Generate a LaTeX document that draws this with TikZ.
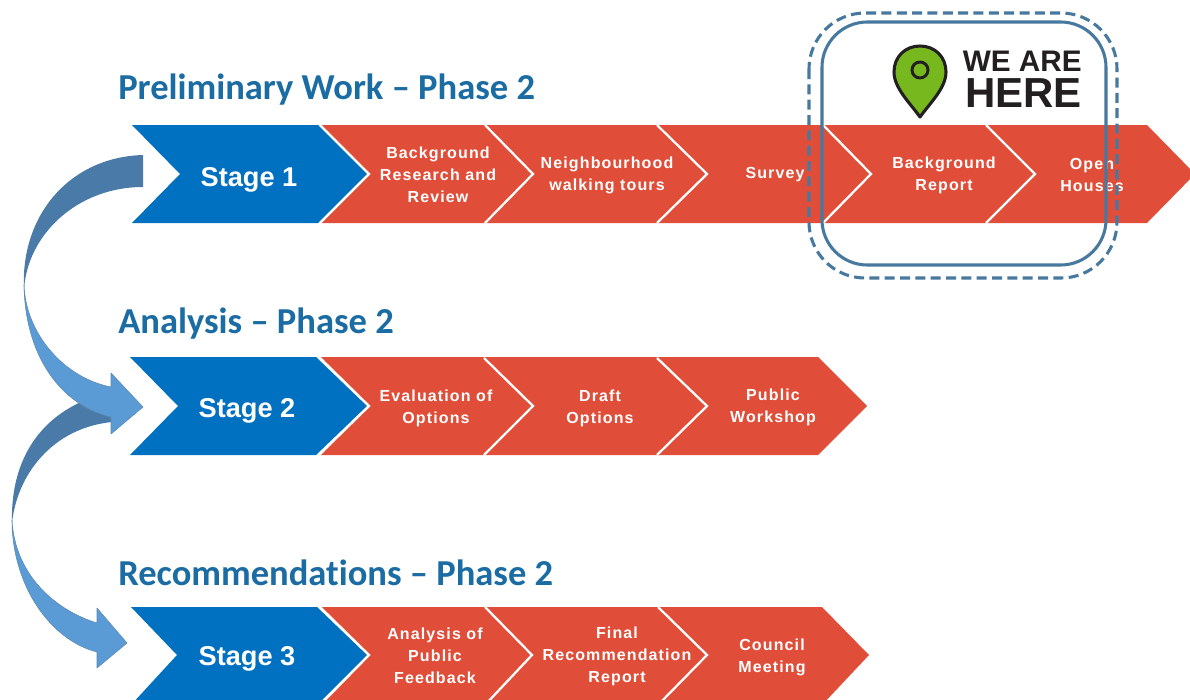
\documentclass[tikz,border=0pt]{standalone}
\usepackage{fontspec}
\setmainfont{Liberation Sans}
\newfontfamily\titlefamily[Ligatures=NoCommon]{Carlito}
\newfontfamily\stepfamily[LetterSpace=7]{Liberation Sans}
\definecolor{stageblue}{HTML}{0070C0}
\definecolor{stepred}{HTML}{E04E39}
\definecolor{titleblue}{HTML}{1B6CA3}
\definecolor{boxblue}{HTML}{47799F}
\definecolor{arrowdark}{HTML}{4A7BA8}
\definecolor{arrowlight}{HTML}{5B9BD5}
\definecolor{pingreen}{HTML}{76B81E}
\definecolor{inkblack}{HTML}{231F20}
\tikzset{
  phasetitle/.style={anchor=base west,inner sep=0pt,text=titleblue,font=\titlefamily\bfseries\fontsize{27.4}{32}\selectfont},
  stagetext/.style={inner sep=0pt,text=white,font=\bfseries\fontsize{20.4}{24}\selectfont},
  steptext/.style={inner sep=0pt,text=white,align=center,font=\stepfamily\bfseries\fontsize{12}{16.5}\selectfont},
  separator/.style={draw=white,line width=1.7pt,line join=miter},
  arrowedge/.style={draw=arrowdark!90,line width=0.4pt,line join=round},
}
% #1 colour, #2 left top x, #3 notch x, #4 right top x, #5 tip x, #6 top y, #7 mid y, #8 bottom y
\newcommand{\chevshape}[8]{%
  \fill[#1] (#2,#6) -- (#4,#6) -- (#5,#7) -- (#4,#8) -- (#2,#8) -- (#3,#7) -- cycle;}
\newcommand{\sepline}[5]{%
  \draw[separator] (#1,#3) -- (#2,#4) -- (#1,#5);}
\begin{document}
\begin{tikzpicture}[x=0.75pt,y=-0.75pt]
\useasboundingbox (0,0) rectangle (1190,700);
\clip (0,0) rectangle (1190,700);
\fill[white] (0,0) rectangle (1190,700);

% Row 1
\chevshape{stepred}{321}{367}{1147}{1195}{125}{174}{223}
\chevshape{stageblue}{132}{180}{318}{367}{125}{174}{223}
\sepline{320}{369}{125}{174}{223}
\sepline{485}{533}{125}{174}{223}
\sepline{657}{707}{125}{174}{223}
\sepline{823}{871}{125}{174}{223}
\sepline{986}{1035}{125}{174}{223}

% Row 2
\chevshape{stepred}{321}{367}{660}{707}{357}{406}{455}
\chevshape{stepred}{658}{707}{818}{867}{357}{406}{455}
\chevshape{stageblue}{130}{178}{316}{367}{357}{406}{455}
\sepline{319}{369}{357}{406}{455}
\sepline{484}{533}{358}{406}{455}
\sepline{657}{707}{358}{406}{455}

% Row 3
\chevshape{stepred}{321}{367}{822}{869}{607}{655}{705}
\chevshape{stageblue}{131}{177}{317}{367}{607}{655}{705}
\sepline{320}{369}{607}{655}{705}
\sepline{485}{532}{607}{655}{705}
\sepline{658}{707}{607}{655}{705}

% Curved arrow Stage 2 to Stage 3
\filldraw[arrowedge,fill=arrowlight] (12,520) .. controls (12,585) and (50,640) .. (97,652)
  -- (97,668) -- (127,643) -- (97,608) -- (97,623)
  .. controls (55,610) and (15,575) .. (12,520) -- cycle;
\fill[arrowdark] (112,392) .. controls (50,405) and (10,450) .. (12,523)
  .. controls (17,475) and (52,428) .. (112,422) -- cycle;

% Curved arrow Stage 1 to Stage 2
\filldraw[arrowedge,fill=arrowlight] (24,285) .. controls (25,355) and (60,405) .. (111,417)
  -- (111,434) -- (143,407) -- (111,373) -- (111,387)
  .. controls (65,378) and (26,335) .. (24,285) -- cycle;
\fill[arrowdark] (143,155) .. controls (70,157) and (20,215) .. (24,290)
  .. controls (27,235) and (77,187) .. (143,187) -- cycle;

% Titles
\node[phasetitle] (title1) at (118,99) {Preliminary Work – Phase 2};
\node[phasetitle] (title2) at (118,333) {Analysis – Phase 2};
\node[phasetitle] (title3) at (118,585) {Recommendations – Phase 2};

% Stage labels
\node[stagetext] (stage1) at (249,180) {Stage 1};
\node[stagetext] (stage2) at (247,411) {Stage 2};
\node[stagetext] (stage3) at (247,659) {Stage 3};

% Step labels
\node[steptext] (s11) at (438,175) {Background\\Research and\\Review};
\node[steptext] (s12) at (607,175) {Neighbourhood\\walking tours};
\node[steptext] (s13) at (775,175) {Survey};
\node[steptext] (s14) at (944,175) {Background\\Report};
\node[steptext] (s15) at (1092,175) {Open\\Houses};
\node[steptext] (s21) at (436,408) {Evaluation of\\Options};
\node[steptext] (s22) at (600,408) {Draft\\Options};
\node[steptext] (s23) at (773,407.5) {Public\\Workshop};
\node[steptext] (s31) at (435,656) {Analysis of\\Public\\Feedback};
\node[steptext] (s32) at (617,656) {Final\\Recommendation\\Report};
\node[steptext] (s33) at (772,657) {Council\\Meeting};

% Highlight frames
\draw[boxblue,line width=2.3pt,rounded corners=34pt] (822,22) rectangle (1106,265);
\draw[boxblue,line width=2.3pt,dash pattern=on 7.5pt off 4pt,rounded corners=42pt] (809,13) rectangle (1117,278);

% Pin
\filldraw[fill=pingreen,draw=inkblack,line width=2.3pt,line join=round]
  (920,117) .. controls (910,103) and (894,88) .. (894,72)
  .. controls (894,57) and (905,46) .. (920,46)
  .. controls (935,46) and (946,57) .. (946,72)
  .. controls (946,88) and (930,103) .. (920,117) -- cycle;
\filldraw[fill=pingreen,draw=inkblack,line width=2.2pt] (920,70) circle (8);

% We are here
\node[anchor=north east,inner sep=0pt,align=right,text=inkblack,font=\bfseries\fontsize{31.5}{27}\selectfont] (wearehere) at (1082,51)
  {{\fontsize{22.3}{27}\selectfont WE ARE}\\HERE};
\end{tikzpicture}
\end{document}
